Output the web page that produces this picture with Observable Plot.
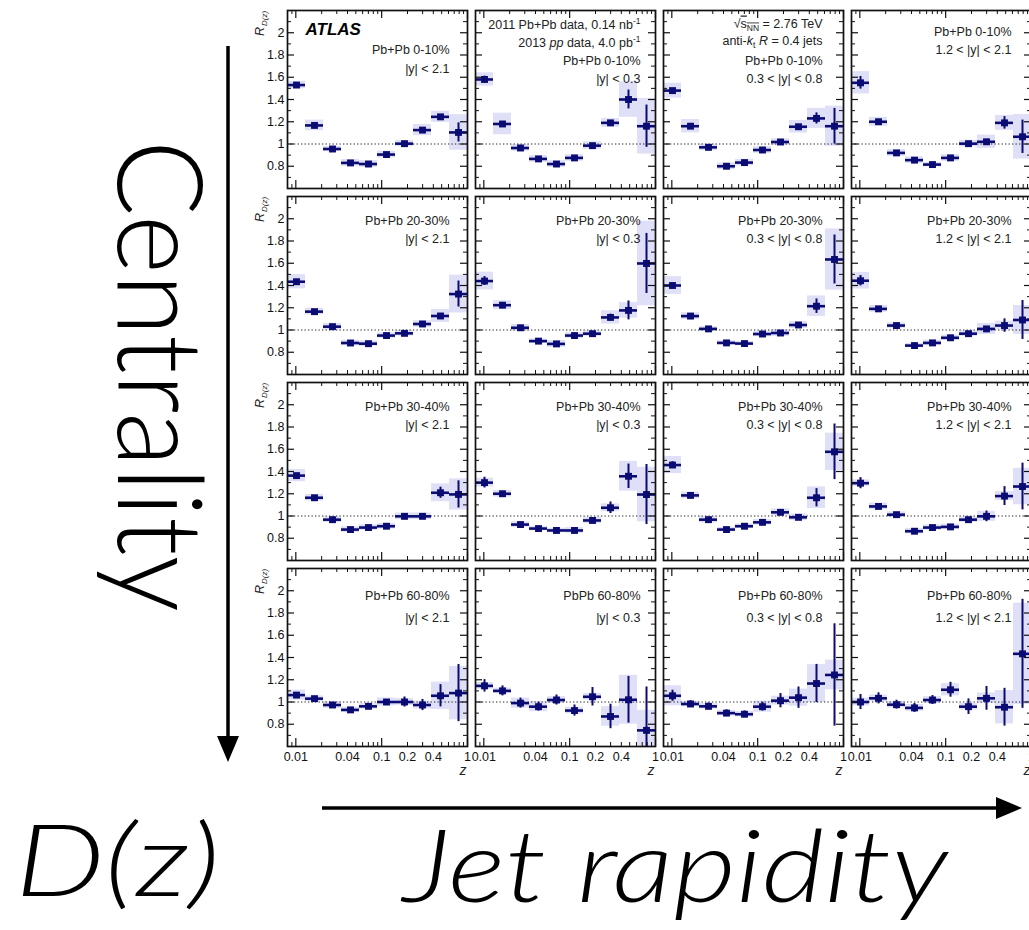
<!DOCTYPE html>
<html><head><meta charset="utf-8">
<script src="https://cdn.jsdelivr.net/npm/d3@7"></script>
<script src="https://cdn.jsdelivr.net/npm/@observablehq/plot@0.6"></script>
<style>
html,body{margin:0;padding:0;background:#fff;overflow:hidden;}
#wrap{position:relative;width:1029px;height:930px;overflow:hidden;background:#fff;}
#wrap svg{max-width:none !important;}
#wrap svg.overlay{position:absolute;left:0;top:0;}
</style></head><body><div id="wrap"></div>
<script>
// ---------- data ----------
const zEdges = [0.008, 0.01297, 0.02101, 0.03406, 0.0552, 0.0894, 0.145, 0.2349, 0.3808, 0.6171, 1.0];
const centralities = ["0-10%", "20-30%", "30-40%", "60-80%"];
const rapidities = ["|y| < 2.1", "|y| < 0.3", "0.3 < |y| < 0.8", "1.2 < |y| < 2.1"];
const systemLabels = [
  ["Pb+Pb 0-10%", "Pb+Pb 0-10%", "Pb+Pb 0-10%", "Pb+Pb 0-10%"],
  ["Pb+Pb 20-30%", "Pb+Pb 20-30%", "Pb+Pb 20-30%", "Pb+Pb 20-30%"],
  ["Pb+Pb 30-40%", "Pb+Pb 30-40%", "Pb+Pb 30-40%", "Pb+Pb 30-40%"],
  ["Pb+Pb 60-80%", "PbPb 60-80%", "Pb+Pb 60-80%", "Pb+Pb 60-80%"]
];
const infoLines = [
  [],
  ["2011 Pb+Pb data, 0.14 nb^{-1}", "2013 *pp* data, 4.0 pb^{-1}"],
  ["√!{s}_!{NN} = 2.76 TeV", "anti-*k*_{t} *R* = 0.4 jets"],
  []
];
const experimentLabel = "ATLAS";
const yTicks = [0.8, 1, 1.2, 1.4, 1.6, 1.8, 2];
const yMinorTicks = [0.7, 0.9, 1.1, 1.3, 1.5, 1.7, 1.9, 2.1];
const xTickLabels = [0.01, 0.04, 0.1, 0.2, 0.4, 1];
const xMajorTicks = [0.01, 0.1, 1];
const xMinorTicks = [0.009, 0.02, 0.03, 0.04, 0.05, 0.06, 0.07, 0.08, 0.09, 0.2, 0.3, 0.4, 0.5, 0.6, 0.7, 0.8, 0.9];

// R_D(z) values, one row per rapidity column
const rD_0_10 = [
  [1.53, 1.167, 0.955, 0.83, 0.82, 0.905, 1.003, 1.125, 1.244, 1.104],
  [1.58, 1.18, 0.964, 0.866, 0.82, 0.875, 0.985, 1.19, 1.40, 1.16],
  [1.48, 1.16, 0.97, 0.80, 0.833, 0.946, 1.018, 1.155, 1.23, 1.16],
  [1.55, 1.20, 0.92, 0.855, 0.815, 0.875, 1.003, 1.02, 1.19, 1.065]
];
const stat_0_10 = [
  [0.01, 0.01, 0.01, 0.01, 0.01, 0.01, 0.01, 0.012, 0.02, 0.086],
  [0.03, 0.012, 0.012, 0.01, 0.01, 0.012, 0.012, 0.02, 0.085, 0.19],
  [0.015, 0.012, 0.01, 0.01, 0.01, 0.01, 0.012, 0.015, 0.05, 0.16],
  [0.057, 0.012, 0.01, 0.01, 0.01, 0.01, 0.012, 0.015, 0.056, 0.15]
];
const sys_0_10 = [
  [0.034, 0.048, 0.024, 0.03, 0.03, 0.03, 0.028, 0.05, 0.05, 0.16],
  [0.06, 0.097, 0.03, 0.03, 0.03, 0.03, 0.035, 0.04, 0.16, 0.25],
  [0.067, 0.06, 0.03, 0.03, 0.03, 0.03, 0.03, 0.057, 0.09, 0.18],
  [0.10, 0.04, 0.03, 0.03, 0.02, 0.03, 0.03, 0.06, 0.067, 0.20]
];
const rD_20_30 = [
  [1.434, 1.165, 1.03, 0.883, 0.877, 0.95, 0.97, 1.054, 1.126, 1.323],
  [1.44, 1.223, 1.02, 0.90, 0.875, 0.95, 0.967, 1.113, 1.176, 1.598],
  [1.40, 1.125, 1.01, 0.884, 0.878, 0.964, 0.973, 1.045, 1.214, 1.634],
  [1.443, 1.19, 1.04, 0.86, 0.884, 0.93, 0.967, 1.01, 1.04, 1.09]
];
const stat_20_30 = [
  [0.012, 0.01, 0.01, 0.01, 0.01, 0.01, 0.01, 0.012, 0.02, 0.117],
  [0.04, 0.012, 0.012, 0.01, 0.01, 0.01, 0.012, 0.03, 0.085, 0.27],
  [0.015, 0.012, 0.01, 0.01, 0.01, 0.01, 0.012, 0.015, 0.065, 0.22],
  [0.047, 0.012, 0.01, 0.01, 0.01, 0.01, 0.012, 0.02, 0.06, 0.175]
];
const sys_20_30 = [
  [0.064, 0.03, 0.03, 0.025, 0.025, 0.025, 0.025, 0.03, 0.058, 0.17],
  [0.08, 0.04, 0.03, 0.02, 0.03, 0.025, 0.025, 0.06, 0.07, 0.38],
  [0.08, 0.03, 0.02, 0.02, 0.02, 0.025, 0.03, 0.03, 0.092, 0.275],
  [0.075, 0.03, 0.025, 0.02, 0.025, 0.025, 0.025, 0.05, 0.04, 0.13]
];
const rD_30_40 = [
  [1.363, 1.164, 0.967, 0.878, 0.896, 0.908, 0.997, 0.997, 1.209, 1.194],
  [1.30, 1.20, 0.923, 0.887, 0.87, 0.87, 0.96, 1.074, 1.357, 1.193],
  [1.458, 1.185, 0.967, 0.878, 0.908, 0.943, 1.033, 0.988, 1.164, 1.577],
  [1.295, 1.086, 1.012, 0.863, 0.896, 0.902, 0.967, 0.997, 1.179, 1.265]
];
const stat_30_40 = [
  [0.012, 0.01, 0.01, 0.01, 0.01, 0.01, 0.01, 0.012, 0.05, 0.122],
  [0.048, 0.012, 0.012, 0.01, 0.01, 0.01, 0.012, 0.052, 0.11, 0.27],
  [0.03, 0.012, 0.01, 0.01, 0.01, 0.01, 0.012, 0.015, 0.082, 0.25],
  [0.05, 0.012, 0.01, 0.01, 0.01, 0.01, 0.012, 0.048, 0.085, 0.21]
];
const sys_30_40 = [
  [0.055, 0.03, 0.025, 0.025, 0.025, 0.025, 0.03, 0.03, 0.08, 0.14],
  [0.04, 0.03, 0.025, 0.02, 0.02, 0.025, 0.03, 0.035, 0.134, 0.245],
  [0.077, 0.03, 0.03, 0.02, 0.02, 0.025, 0.03, 0.03, 0.097, 0.167],
  [0.03, 0.03, 0.025, 0.025, 0.025, 0.025, 0.025, 0.045, 0.04, 0.164]
];
const rD_60_80 = [
  [1.062, 1.03, 0.973, 0.929, 0.961, 1.0, 1.0, 0.973, 1.056, 1.08],
  [1.145, 1.10, 0.99, 0.958, 1.018, 0.923, 1.047, 0.87, 1.02, 0.745],
  [1.056, 0.982, 0.961, 0.90, 0.89, 0.958, 1.012, 1.039, 1.166, 1.243],
  [1.0, 1.033, 0.976, 0.947, 1.018, 1.11, 0.958, 1.033, 0.953, 1.433]
];
const stat_60_80 = [
  [0.02, 0.015, 0.015, 0.015, 0.015, 0.02, 0.045, 0.05, 0.1, 0.257],
  [0.056, 0.045, 0.045, 0.04, 0.045, 0.05, 0.083, 0.11, 0.21, 0.39],
  [0.05, 0.03, 0.03, 0.03, 0.03, 0.04, 0.064, 0.096, 0.172, 0.46],
  [0.068, 0.05, 0.04, 0.04, 0.04, 0.067, 0.07, 0.107, 0.17, 0.49]
];
const sys_60_80 = [
  [0.045, 0.025, 0.03, 0.025, 0.025, 0.036, 0.03, 0.035, 0.123, 0.24],
  [0.03, 0.025, 0.045, 0.045, 0.03, 0.03, 0.03, 0.088, 0.22, 0.18],
  [0.09, 0.025, 0.025, 0.025, 0.025, 0.05, 0.04, 0.077, 0.17, 0.134],
  [0.035, 0.03, 0.03, 0.03, 0.03, 0.055, 0.03, 0.048, 0.15, 0.455]
];

// ---------- table ----------
const rDByCent = [rD_0_10, rD_20_30, rD_30_40, rD_60_80];
const statByCent = [stat_0_10, stat_20_30, stat_30_40, stat_60_80];
const sysByCent = [sys_0_10, sys_20_30, sys_30_40, sys_60_80];
const points = [];
centralities.forEach((cent, r) => rapidities.forEach((rap, c) => rDByCent[r][c].forEach((v, k) => {
  points.push({cent, rap, v, z: Math.sqrt(zEdges[k] * zEdges[k + 1]), z1: zEdges[k], z2: zEdges[k + 1],
    stat: statByCent[r][c][k], sys: sysByCent[r][c][k]});
})));

// ---------- layout ----------
const panelW = 180, panelH = 178, gapX = 8, gapY = 8;
const mLeft = 287, mTop = 10, mRight = 9, mBottom = 44;
const W = mLeft + 4 * panelW + 3 * gapX + mRight;
const H = mTop + 4 * panelH + 3 * gapY + mBottom;
const navy = "#0b0b74", sysFill = "#dfdff8";
const labelFont = 12.5;

// panel annotation lines
const colInset = [18, 15, 21, 20];
const labelItems = [];
centralities.forEach((cent, r) => rapidities.forEach((rap, c) => {
  const lines = (r === 0 ? infoLines[c] : []).concat([systemLabels[r][c], rap]);
  let offs;
  if (r === 0) {
    offs = c === 0 ? [39, 58] : c === 3 ? [21, 39] : c === 1 ? [14, 32, 50, 68] : [13, 30, 50, 68];
  } else if (r === 3) offs = [27, 49];
  else offs = [24, 42];
  lines.forEach((text, i) => labelItems.push({cent, rap, text, dx: -colInset[c], dy: offs[i]}));
}));
const labelGroups = d3.groups(labelItems, d => d.dx + "," + d.dy);
const labelMarks = labelGroups.map(([key, items]) => Plot.text(items, {
  fx: "rap", fy: "cent", text: "text", frameAnchor: "top-right", textAnchor: "end", lineAnchor: "middle",
  dx: items[0].dx, dy: items[0].dy, fontSize: labelFont, fill: "#222"
}));

const rowHeads = centralities.map(cent => ({cent, rap: rapidities[0]}));
const bottomRow = rapidities.map(rap => ({rap, cent: centralities[3]}));

const chart = Plot.plot({
  width: W, height: H,
  marginLeft: mLeft, marginTop: mTop, marginRight: mRight, marginBottom: mBottom,
  style: {fontFamily: "'Liberation Sans', Arial, sans-serif", fontSize: "12px", color: "#111", background: "#fff", maxWidth: "none", overflow: "visible"},
  fx: {domain: rapidities, paddingInner: gapX / (panelW + gapX), paddingOuter: 0, axis: null},
  fy: {domain: centralities, paddingInner: gapY / (panelH + gapY), paddingOuter: 0, axis: null},
  x: {type: "log", domain: [0.008, 1]},
  y: {domain: [0.6, 2.2]},
  marks: [
    Plot.rect(points, {fx: "rap", fy: "cent", x1: "z1", x2: "z2", y1: d => d.v - d.sys, y2: d => d.v + d.sys, fill: sysFill, clip: true}),
    Plot.ruleY([1], {stroke: "#222", strokeWidth: 1, strokeDasharray: "1.3,2.2"}),
    Plot.ruleY(points, {fx: "rap", fy: "cent", x1: "z1", x2: "z2", y: "v", stroke: navy, strokeWidth: 2.6, clip: true}),
    Plot.ruleX(points, {fx: "rap", fy: "cent", x: "z", y1: d => d.v - d.stat, y2: d => d.v + d.stat, stroke: navy, strokeWidth: 2, clip: true}),
    Plot.dot(points, {fx: "rap", fy: "cent", x: "z", y: "v", symbol: "square", r: 3.9, fill: navy}),
    // inward ticks on all four sides
    Plot.tickY(yTicks, {y: d => d, insetRight: panelW - 7, stroke: "#111", strokeWidth: 1.2}),
    Plot.tickY(yTicks, {y: d => d, insetLeft: panelW - 7, stroke: "#111", strokeWidth: 1.2}),
    Plot.tickY(yMinorTicks, {y: d => d, insetRight: panelW - 4, stroke: "#111", strokeWidth: 1}),
    Plot.tickY(yMinorTicks, {y: d => d, insetLeft: panelW - 4, stroke: "#111", strokeWidth: 1}),
    Plot.tickX(xMajorTicks, {x: d => d, insetTop: panelH - 8, stroke: "#111", strokeWidth: 1.2}),
    Plot.tickX(xMajorTicks, {x: d => d, insetBottom: panelH - 8, stroke: "#111", strokeWidth: 1.2}),
    Plot.tickX(xMinorTicks, {x: d => d, insetTop: panelH - 4, stroke: "#111", strokeWidth: 1}),
    Plot.tickX(xMinorTicks, {x: d => d, insetBottom: panelH - 4, stroke: "#111", strokeWidth: 1}),
    Plot.frame({stroke: "#111", strokeWidth: 1.7}),
    Plot.axisY({ticks: yTicks, tickSize: 0, tickPadding: 3, fontSize: 12.5, tickFormat: d => String(d), label: null}),
    Plot.axisX({ticks: xTickLabels, tickSize: 0, tickPadding: 6, fontSize: 12.5, tickFormat: d => String(d), label: null}),
    ...labelMarks,
    Plot.text([{cent: centralities[0], rap: rapidities[0]}], {fx: "rap", fy: "cent", text: () => experimentLabel,
      frameAnchor: "top-left", textAnchor: "start", lineAnchor: "middle", dx: 18, dy: 19,
      fontSize: 17, fontWeight: "bold", fontStyle: "italic", fill: "#000"}),
    Plot.text(rowHeads, {fx: "rap", fy: "cent", text: () => "R", frameAnchor: "top-left", rotate: -90,
      textAnchor: "middle", lineAnchor: "middle", dx: -28, dy: 21, fontSize: 12.5, fontStyle: "italic", fill: "#222"}),
    Plot.text(rowHeads, {fx: "rap", fy: "cent", text: () => "D(z)", frameAnchor: "top-left", rotate: -90,
      textAnchor: "middle", lineAnchor: "middle", dx: -23, dy: 8, fontSize: 8, fontStyle: "italic", fill: "#222"}),
    Plot.text(bottomRow, {fx: "rap", fy: "cent", text: () => "z", frameAnchor: "bottom-right", textAnchor: "end",
      lineAnchor: "middle", dx: -1, dy: 24, fontSize: 14, fontStyle: "italic", fill: "#222"})
  ]
});

// rich text: ^{sup} _{sub} _!{sub overline} !{overline} *italic*
const NS = "http://www.w3.org/2000/svg";
function applyRich(el) {
  const s = el.textContent;
  if (!/[\^_*!]/.test(s)) return;
  const re = /\^\{([^}]*)\}|_!\{([^}]*)\}|_\{([^}]*)\}|!\{([^}]*)\}|\*([^*]*)\*/g;
  el.textContent = "";
  let last = 0, cur = 0, m;
  const add = (txt, shift, small, italic, over) => {
    const t = document.createElementNS(NS, "tspan");
    t.textContent = txt;
    if (shift !== cur) { t.setAttribute("dy", shift - cur); cur = shift; }
    if (small) t.setAttribute("font-size", small);
    if (italic) t.setAttribute("font-style", "italic");
    if (over) t.style.textDecoration = "overline";
    el.appendChild(t);
  };
  while ((m = re.exec(s))) {
    if (m.index > last) add(s.slice(last, m.index), 0);
    if (m[1] != null) add(m[1], -5, 8.5);
    else if (m[2] != null) add(m[2], 3, 8.5, false, true);
    else if (m[3] != null) add(m[3], 3, 8.5);
    else if (m[4] != null) add(m[4], 0, null, false, true);
    else add(m[5], 0, null, true);
    last = re.lastIndex;
  }
  if (last < s.length) add(s.slice(last), 0);
}
chart.querySelectorAll("text").forEach(applyRich);

const wrap = document.getElementById("wrap");
wrap.appendChild(chart);

// ---------- overlay: big titles and arrows ----------
const ov = document.createElementNS(NS, "svg");
ov.setAttribute("class", "overlay");
ov.setAttribute("width", 1029);
ov.setAttribute("height", 930);
ov.innerHTML = `
  <g font-family="Lato, Roboto, 'Open Sans', sans-serif" font-weight="300" fill="#000">
    <text transform="translate(118,140) rotate(90)" font-size="118" textLength="472" lengthAdjust="spacingAndGlyphs">Centrality</text>
    <text x="15" y="896" font-size="100" font-style="italic" textLength="205" lengthAdjust="spacingAndGlyphs">D(z)</text>
    <text x="403" y="902" font-size="100" font-style="italic" textLength="545" lengthAdjust="spacingAndGlyphs">Jet rapidity</text>
  </g>
  <line x1="228" y1="46" x2="228" y2="740" stroke="#000" stroke-width="3.5"/>
  <polygon points="217,736 239,736 228,762" fill="#000"/>
  <line x1="322" y1="808" x2="1000" y2="808" stroke="#000" stroke-width="3.5"/>
  <polygon points="996,797 996,819 1022,808" fill="#000"/>
`;
wrap.appendChild(ov);
</script></body></html>
